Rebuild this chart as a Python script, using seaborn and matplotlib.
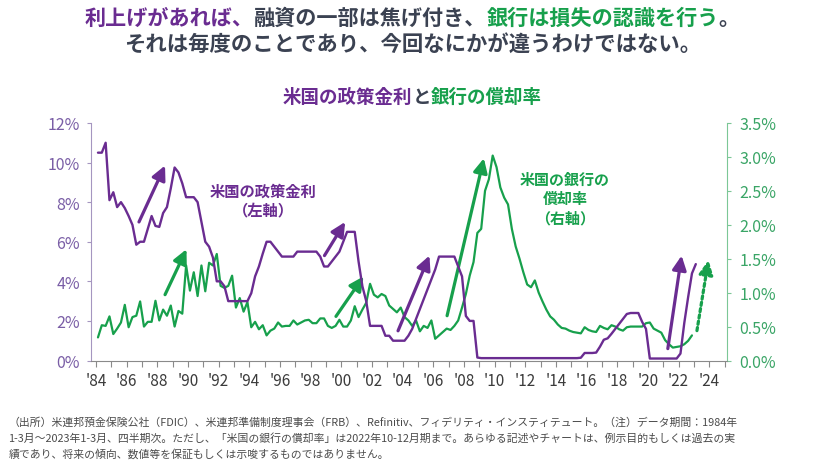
import numpy as np
import pandas as pd
import matplotlib
matplotlib.use("Agg")
import matplotlib.pyplot as plt
import seaborn as sns
from matplotlib.offsetbox import TextArea, HPacker, AnnotationBbox

sns.set_style("white")
plt.rcParams["font.family"] = ["Noto Sans CJK JP", "DejaVu Sans"]

PURPLE = "#6a2c91"
GREEN = "#17a04c"
DARK = "#3b4252"

# 米国の政策金利（%、四半期、1984Q1〜2023Q1）
policy_rate = [
    10.5, 10.5, 11.0, 8.1,    8.5, 7.75, 8.0, 7.7,    7.3, 6.85, 5.85, 6.0,
    6.0, 6.65, 7.3, 6.8,      6.75, 7.45, 7.75, 8.7,  9.75, 9.5, 8.95, 8.25,
    8.25, 8.25, 8.0, 7.0,     6.0, 5.75, 5.2, 4.0,    4.0, 3.75, 3.0, 3.0,
    3.0, 3.0, 3.0, 3.0,       3.4, 4.25, 4.75, 5.4,   6.0, 6.0, 5.75, 5.5,
    5.25, 5.25, 5.25, 5.25,   5.5, 5.5, 5.5, 5.5,     5.5, 5.5, 5.25, 4.75,
    4.75, 5.0, 5.25, 5.5,     6.0, 6.5, 6.5, 6.5,     5.0, 3.75, 3.0, 1.75,
    1.75, 1.75, 1.75, 1.25,   1.25, 1.0, 1.0, 1.0,    1.0, 1.25, 1.6, 2.1,
    2.6, 3.1, 3.6, 4.1,       4.6, 5.25, 5.25, 5.25,  5.25, 5.25, 4.75, 4.25,
    2.25, 2.0, 2.0, 0.15,
    0.12, 0.12, 0.12, 0.12,   0.12, 0.12, 0.12, 0.12, 0.12, 0.12, 0.12, 0.12,
    0.12, 0.12, 0.12, 0.12,   0.12, 0.12, 0.12, 0.12, 0.12, 0.12, 0.12, 0.12,
    0.12, 0.12, 0.14, 0.38,   0.38, 0.38, 0.4, 0.7,   1.05, 1.12, 1.35, 1.6,
    1.85, 2.1, 2.35, 2.4,     2.4, 2.4, 1.95, 1.6,    0.1, 0.1, 0.1, 0.1,
    0.1, 0.1, 0.1, 0.1,       0.35, 1.9, 3.2, 4.4,    4.87,
]

# 米国の銀行の償却率（%、四半期、1984Q1〜2022Q4）
charge_off = [
    0.34, 0.52, 0.51, 0.65,   0.39, 0.47, 0.56, 0.82,  0.49, 0.64, 0.66, 0.87,
    0.50, 0.57, 0.57, 0.88,   0.59, 0.75, 0.66, 0.81,  0.50, 0.73, 0.69, 1.40,
    1.03, 1.30, 0.95, 1.40,   1.02, 1.44, 1.40, 1.57,  1.10, 1.07, 1.10, 1.25,
    0.78, 0.92, 0.72, 0.86,   0.49, 0.57, 0.46, 0.52,  0.37, 0.44, 0.47, 0.56,
    0.50, 0.51, 0.51, 0.59,   0.53, 0.56, 0.59, 0.60,  0.55, 0.55, 0.62, 0.62,
    0.51, 0.48, 0.51, 0.60,   0.50, 0.50, 0.59, 0.80,  0.64, 0.75, 0.85, 1.13,
    0.97, 0.93, 0.98, 0.95,   0.81, 0.76, 0.71, 0.78,  0.64, 0.59, 0.51, 0.59,
    0.43, 0.51, 0.48, 0.59,   0.32, 0.37, 0.42, 0.47,  0.45, 0.51, 0.59, 0.78,
    0.98, 1.25, 1.45, 1.88,   1.94, 2.50, 2.67, 3.02,  2.85, 2.55, 2.40, 2.30,
    1.94, 1.68, 1.50, 1.30,   1.12, 1.08, 1.18, 1.00,  0.87, 0.75, 0.65, 0.60,
    0.53, 0.48, 0.47, 0.44,   0.42, 0.41, 0.40, 0.49,  0.45, 0.43, 0.42, 0.51,
    0.48, 0.46, 0.52, 0.50,   0.46, 0.44, 0.49, 0.50,  0.50, 0.50, 0.50, 0.55,
    0.56, 0.47, 0.44, 0.41,   0.30, 0.24, 0.19, 0.20,  0.21, 0.24, 0.29, 0.37,
]

# 矢印 (始点年, 始点値, 終点年, 終点値, 軸, 色, 点線)
arrows = [
    (1986.8, 7.0, 1988.5, 9.85, "L", PURPLE, False),
    (1998.9, 5.3, 2000.25, 7.0, "L", PURPLE, False),
    (2003.7, 1.5, 2005.75, 5.3, "L", PURPLE, False),
    (2021.3, 0.6, 2022.2, 5.3, "L", PURPLE, False),
    (1988.5, 0.97, 1989.9, 1.64, "R", GREEN, False),
    (1999.65, 0.65, 2001.45, 1.24, "R", GREEN, False),
    (2006.9, 0.66, 2009.3, 2.98, "R", GREEN, False),
    (2023.2, 0.44, 2023.95, 1.48, "R", GREEN, True),
]

years = list(range(1984, 2026))
left_ticks = [0, 2, 4, 6, 8, 10, 12]
right_ticks = [0.0, 0.5, 1.0, 1.5, 2.0, 2.5, 3.0, 3.5]

footnote = [
    "（出所）米連邦預金保険公社（FDIC）、米連邦準備制度理事会（FRB）、Refinitiv、フィデリティ・インスティテュート。（注）データ期間：1984年",
    "1-3月～2023年1-3月、四半期次。ただし、「米国の銀行の償却率」は2022年10-12月期まで。あらゆる記述やチャートは、例示目的もしくは過去の実",
    "績であり、将来の傾向、数値等を保証もしくは示唆するものではありません。",
]


def to_year(periods):
    return periods.year + (periods.quarter - 0.5) / 4


q_pol = pd.period_range("1984Q1", periods=len(policy_rate), freq="Q")
q_chg = pd.period_range("1984Q1", periods=len(charge_off), freq="Q")
df_pol = pd.DataFrame({"t": to_year(q_pol), "v": policy_rate})
df_chg = pd.DataFrame({"t": to_year(q_chg), "v": charge_off})

fig = plt.figure(figsize=(8.25, 4.64), dpi=100)
ax = fig.add_axes([0.1103, 0.2209, 0.7709, 0.5119])
ax2 = ax.twinx()

sns.lineplot(data=df_chg, x="t", y="v", ax=ax2, color=GREEN, lw=1.6)
sns.lineplot(data=df_pol, x="t", y="v", ax=ax, color=PURPLE, lw=1.7)
ax.set_zorder(ax2.get_zorder() + 1)
ax.patch.set_visible(False)

ax.set_xlim(1983.67, 2025.16)
ax.set_ylim(0, 12)
ax2.set_ylim(0, 3.5)

ax.set_xticks(years)
ax.set_xticklabels([f"'{y % 100:02d}" if y % 2 == 0 and y <= 2024 else "" for y in years])
ax.set_yticks(left_ticks)
ax.set_yticklabels([f"{v}%" for v in left_ticks])
ax2.set_yticks(right_ticks)
ax2.set_yticklabels([f"{v:.1f}%" for v in right_ticks])
ax.set_xlabel("")
ax.set_ylabel("")
ax2.set_ylabel("")

ax.tick_params(axis="x", direction="out", length=4, width=0.8, color="#8a8a8a",
               labelcolor="#3b3b3b", labelsize=11, pad=4, bottom=True)
ax.tick_params(axis="y", direction="out", length=3, width=0.8, color="#a596c0",
               labelcolor="#7a5ea6", labelsize=11.5, pad=5, left=True)
ax2.tick_params(axis="y", direction="out", length=3, width=0.8, color="#7cc796",
                labelcolor="#3aa566", labelsize=11.5, pad=6, right=True)

for a in (ax, ax2):
    a.spines["top"].set_visible(False)
ax.spines["right"].set_visible(False)
ax2.spines["left"].set_visible(False)
ax2.spines["bottom"].set_visible(False)
ax.spines["left"].set_color("#a596c0")
ax.spines["bottom"].set_color("#8a8a8a")
ax2.spines["right"].set_color("#7cc796")

for x0, y0, x1, y1, side, col, dotted in arrows:
    target = ax if side == "L" else ax2
    target.annotate("", xy=(x1, y1), xytext=(x0, y0),
                    arrowprops=dict(arrowstyle="-|>,head_length=0.85,head_width=0.42",
                                    mutation_scale=10, lw=2.3, color=col,
                                    ls=(0, (1, 1)) if dotted else "-",
                                    shrinkA=0, shrinkB=0))

ax.text(1994.9, 8.1, "米国の政策金利\n（左軸）", color=PURPLE, fontsize=11,
        fontweight="bold", ha="center", va="center", linespacing=1.25)
ax2.text(2014.6, 2.39, "米国の銀行の\n償却率\n（右軸）", color=GREEN, fontsize=10.8,
         fontweight="bold", ha="center", va="center", linespacing=1.25)


def colored_line(parts, y, size):
    boxes = [TextArea(s, textprops=dict(color=c, fontsize=size, fontweight="bold"))
             for s, c in parts]
    pack = HPacker(children=boxes, pad=0, sep=0, align="baseline")
    ab = AnnotationBbox(pack, (0.5, y), xycoords="figure fraction", frameon=False,
                        box_alignment=(0.5, 0.5), pad=0)
    fig.add_artist(ab)


colored_line([("利上げがあれば、", PURPLE), ("融資の一部は焦げ付き、", DARK),
              ("銀行は損失の認識を行う", GREEN), ("。", DARK)], 0.961, 15.2)
colored_line([("それは毎度のことであり、今回なにかが違うわけではない。", DARK)], 0.905, 15.4)
colored_line([("米国の政策金利", PURPLE), ("と", DARK), ("銀行の償却率", GREEN)], 0.789, 13.3)

for i, line in enumerate(footnote):
    fig.text(0.01, 0.090 - i * 0.0345, line, fontsize=7.8, color="#4a4a4a",
             ha="left", va="center")

fig.savefig("out.png", dpi=100)
